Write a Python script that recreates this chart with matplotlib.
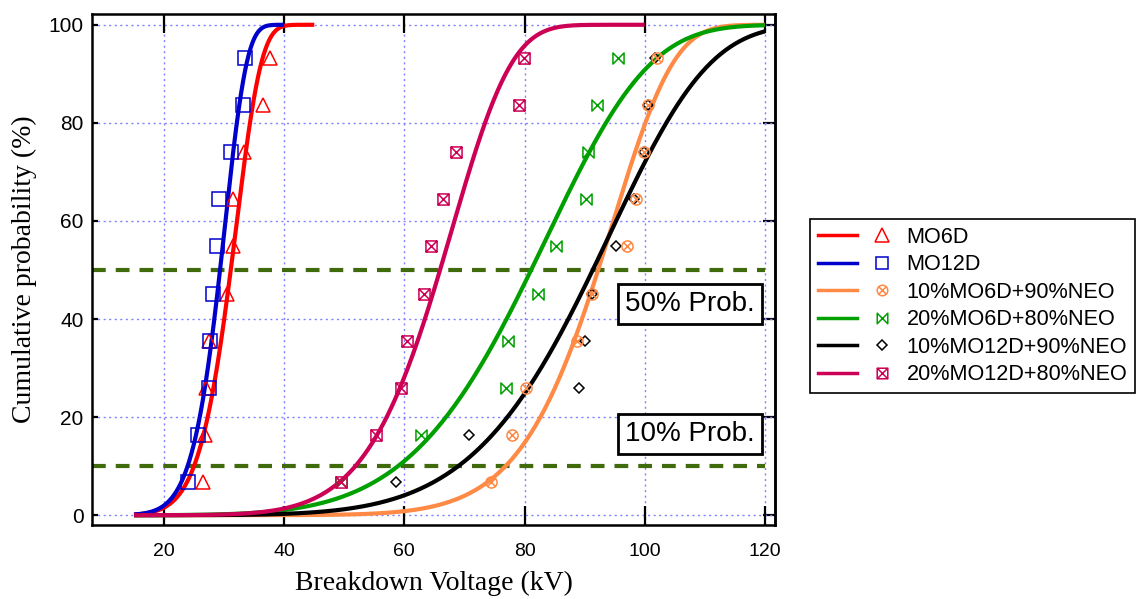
import numpy as np
import matplotlib
matplotlib.use("Agg")
import matplotlib.pyplot as plt
from matplotlib.path import Path
from matplotlib.lines import Line2D
from matplotlib.legend_handler import HandlerTuple

# ---------------- data ----------------
prob_levels = [6.7, 16.3, 26.0, 35.6, 45.2, 54.8, 64.4, 74.0, 83.7, 93.3]

mo6d_kv = [26.4, 26.8, 27.0, 27.4, 30.5, 31.5, 31.4, 33.3, 36.4, 37.6]
mo12d_kv = [23.9, 25.7, 27.4, 27.7, 28.2, 28.8, 29.2, 31.1, 33.2, 33.5]
mo6d10_kv = [74.4, 78.0, 80.2, 88.8, 91.3, 97.0, 98.5, 99.9, 100.6, 102.0]
mo6d20_kv = [49.5, 62.7, 76.9, 77.2, 82.3, 85.3, 90.2, 90.5, 92.0, 95.5]
mo12d10_kv = [58.6, 70.8, 89.1, 90.0, 91.3, 95.3, 98.3, 99.9, 100.5, 101.8]
mo12d20_kv = [49.5, 55.2, 59.4, 60.5, 63.3, 64.4, 66.5, 68.6, 79.1, 79.9]

series_labels = ["MO6D", "MO12D", "10%MO6D+90%NEO", "20%MO6D+80%NEO",
                 "10%MO12D+90%NEO", "20%MO12D+80%NEO"]
# Weibull fit parameters (scale eta in kV, shape beta) and curve range (kV)
weibull_eta = [32.45, 30.5, 95.6, 86.3, 96.5, 69.1]
weibull_beta = [8.6, 9.25, 10.3, 5.9, 6.7, 7.83]
curve_start = [15, 15, 15, 15, 15, 15]
curve_end = [45, 40, 120, 120, 120, 100]

threshold_levels = [50, 10]
threshold_texts = ["50% Prob.", "10% Prob."]

x_ticks = [20, 40, 60, 80, 100, 120]
y_ticks = [0, 20, 40, 60, 80, 100]

# ---------------- styles ----------------
colors = ["#ff0000", "#0000cc", "#ff8a45", "#00a000", "#000000", "#cc0055"]

M, L, C = Path.MOVETO, Path.LINETO, Path.CLOSEPOLY
bowtie = Path([(-1, 1), (-1, -1), (1, 1), (1, -1), (-1, 1)], [M, L, L, L, C])
boxx = Path([(-1, -1), (1, -1), (1, 1), (-1, 1), (-1, -1),
             (-1, -1), (1, 1), (-1, 1), (1, -1)],
            [M, L, L, L, C, M, L, M, L])
otimes = Path.make_compound_path(
    Path.unit_circle(),
    Path([(-0.707, -0.707), (0.707, 0.707), (-0.707, 0.707), (0.707, -0.707)],
         [M, L, M, L]))
markers = ["^", "s", otimes, bowtie, "D", boxx]
msizes = [10, 9.5, 8, 8, 5.5, 8]
marker_z = [4.0, 4.1, 4.3, 4.2, 3.9, 4.5]

data_kv = [mo6d_kv, mo12d_kv, mo6d10_kv, mo6d20_kv, mo12d10_kv, mo12d20_kv]

fig = plt.figure(figsize=(11.42, 5.99), dpi=100)
ax = fig.add_axes([92 / 1142, 74 / 599, (775 - 92) / 1142, (525 - 14) / 599])

ax.set_xlim(8.0, 121.7)
ax.set_ylim(-2.0, 102.2)

# grid
for xv in x_ticks:
    ax.axvline(xv, color="#8080ff", lw=1.0, ls=(0, (1.5, 2.5)), zorder=1)
for yv in y_ticks:
    ax.axhline(yv, color="#8080ff", lw=1.0, ls=(0, (1.5, 2.5)), zorder=1)

# threshold lines
ax.hlines(threshold_levels, 8.0, 120, colors="#3f6b0c", lw=3,
          linestyles=(0, (3.3, 2.4)), zorder=2)

handles = []
for i in range(6):
    xs = np.linspace(curve_start[i], curve_end[i], 400)
    F = 100 * (1 - np.exp(-(xs / weibull_eta[i]) ** weibull_beta[i]))
    ax.plot(xs, F, color=colors[i], lw=3.0, zorder=3 + i * 0.1,
            solid_capstyle="butt")
    ax.plot(data_kv[i], prob_levels, ls="none", marker=markers[i],
            ms=msizes[i], mfc="none", mec=colors[i], mew=1.1, zorder=marker_z[i])
    h_line = Line2D([], [], color=colors[i], lw=2.5)
    h_mark = Line2D([], [], ls="none", marker=markers[i], ms=msizes[i] * 0.95,
                    mfc="none", mec=colors[i], mew=1.1)
    handles.append((h_line, h_mark))

# text boxes
box_y = [43.1, 16.6]
for yv, t in zip(box_y, threshold_texts):
    ax.text(107.5, yv, t, ha="center", va="center", fontsize=20,
            family="Liberation Sans", zorder=6,
            bbox=dict(boxstyle="square,pad=0.26", fc="white", ec="black", lw=2))

ax.set_xticks(x_ticks)
ax.set_yticks(y_ticks)
ax.tick_params(axis="x", direction="in", top=True, bottom=True, length=14,
               width=1.6, labelsize=14, pad=13)
ax.tick_params(axis="y", direction="in", left=True, right=False, length=4,
               width=1.6, labelsize=15, pad=6)
sec = ax.secondary_yaxis("right")
sec.set_yticks(y_ticks)
sec.tick_params(direction="in", length=9, width=1.6, labelright=False)
sec.spines["right"].set_linewidth(1.8)
for lab in ax.get_xticklabels() + ax.get_yticklabels():
    lab.set_family("Liberation Sans")
for s in ax.spines.values():
    s.set_linewidth(1.8)

ax.set_xlabel("Breakdown Voltage (kV)", family="Liberation Serif", fontsize=20,
              labelpad=8)
ax.set_ylabel("Cumulative probability (%)", family="Liberation Serif",
              fontsize=20, labelpad=8)

leg = fig.legend(handles, series_labels, loc="upper left",
                 bbox_to_anchor=(810 / 1142, 1 - 219 / 599),
                 handler_map={tuple: HandlerTuple(ndivide=None, pad=0.26)},
                 prop={"family": "Liberation Sans", "size": 15.6},
                 handlelength=3.9, handletextpad=0.2, labelspacing=0.3,
                 borderpad=0.35, borderaxespad=0, fancybox=False,
                 edgecolor="black", framealpha=1)
leg.get_frame().set_linewidth(1.2)

fig.savefig("out.png", dpi=100)
